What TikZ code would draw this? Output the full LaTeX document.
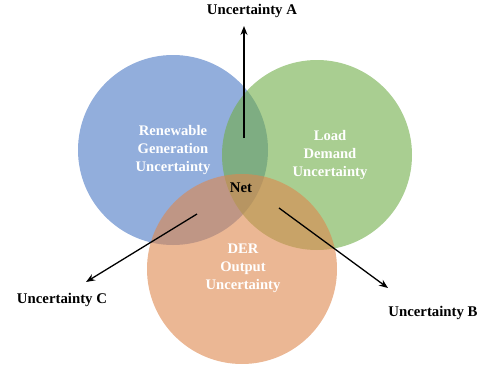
\documentclass[tikz,border=0pt]{standalone}
\usepackage{fontspec}
\setmainfont{Liberation Serif}
\usetikzlibrary{arrows.meta}
\definecolor{cblue}{HTML}{4A78C4}
\definecolor{cgreen}{HTML}{70AD47}
\definecolor{corange}{HTML}{DE874D}
\begin{document}
\begin{tikzpicture}[x=1pt,y=-1pt,
  venn/.style={circle,minimum size=190pt,inner sep=0pt,fill opacity=0.6,draw=none},
  intxt/.style={text=white,font=\fontsize{14.6}{18}\selectfont\bfseries,align=center},
  outtxt/.style={text=black,font=\fontsize{14.8}{17}\selectfont\bfseries},
  arr/.style={-{Stealth[length=9pt,width=7pt]},line width=1.3pt,black}]
\useasboundingbox (0,0) rectangle (485,370);
\node[venn,fill=cblue] (blue) at (173,150) {};
\node[venn,fill=cgreen] (green) at (317,155) {};
\node[venn,fill=corange] (orange) at (242,269) {};
\node[intxt] (ren) at (173,150) {Renewable\\Generation\\Uncertainty};
\node[intxt] (load) at (330,155) {Load\\Demand\\Uncertainty};
\node[intxt] (der) at (243,268) {DER\\Output\\Uncertainty};
\node[outtxt] (net) at (241,188) {Net};
\node[outtxt] (ua) at (252,11) {Uncertainty A};
\node[outtxt] (ub) at (433,313) {Uncertainty B};
\node[outtxt] (uc) at (62,300) {Uncertainty C};
\coordinate (sa) at (244,138);
\coordinate (ta) at (244,26);
\coordinate (sb) at (279,208);
\coordinate (tb) at (388,288);
\coordinate (sc) at (197,214);
\coordinate (tc) at (86,282);
\draw[arr] (sa) -- (ta);
\draw[arr] (sb) -- (tb);
\draw[arr] (sc) -- (tc);
\end{tikzpicture}
\end{document}
